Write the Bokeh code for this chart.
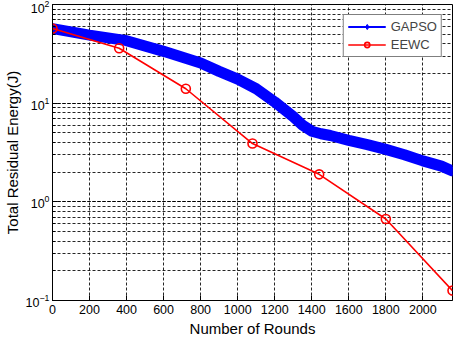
from bokeh.plotting import figure
from bokeh.models import Range1d, ColumnDataSource, Legend, LegendItem, FixedTicker
from bokeh.embed import file_html
from bokeh.resources import INLINE

# ---- data ----
gapso_rounds = [0, 200, 400, 600, 800, 900, 1000, 1100, 1200, 1300, 1350, 1400, 1450,
                1500, 1600, 1700, 1800, 1900, 2000, 2100, 2160]
gapso_energy = [57, 49, 43, 33.5, 25.5, 21, 17.5, 14, 10.3, 7.3, 6.0, 5.2, 4.9,
                4.7, 4.2, 3.8, 3.4, 3.0, 2.6, 2.3, 2.05]

eewc_rounds = [0, 360, 720, 1080, 1440, 1800, 2160]
eewc_energy = [57, 36, 14, 3.9, 1.9, 0.67, 0.126]

x_ticks = [0, 200, 400, 600, 800, 1000, 1200, 1400, 1600, 1800, 2000]

FONT = "Liberation Sans"

p = figure(width=458, height=339, y_axis_type="log",
           x_range=Range1d(0, 2160), y_range=Range1d(0.1, 100),
           output_backend="svg", toolbar_location=None,
           min_border_left=0, min_border_right=6, min_border_top=4, min_border_bottom=0)

p.background_fill_color = "white"
p.border_fill_color = "white"
p.outline_line_color = "black"
p.outline_line_width = 1

# axes
p.xaxis.ticker = FixedTicker(ticks=x_ticks)
p.yaxis.ticker.desired_num_ticks = 4
p.xaxis.axis_label = "Number of Rounds"
p.yaxis.axis_label = "Total Residual Energy(J)"
for ax in (p.xaxis[0], p.yaxis[0]):
    ax.axis_label_text_font = FONT
    ax.axis_label_text_font_size = "15px"
    ax.axis_label_text_font_style = "normal"
    ax.major_label_text_font = FONT
    ax.major_label_text_font_size = "12.5px"
    ax.major_tick_in = 5
    ax.major_tick_out = 0
    ax.minor_tick_in = 3
    ax.minor_tick_out = 0
    ax.axis_line_color = "black"
    ax.major_tick_line_color = "black"
    ax.minor_tick_line_color = "black"
    ax.major_label_text_color = "black"
    ax.axis_label_text_color = "black"
p.xaxis.minor_tick_line_color = None
p.xaxis.axis_label_standoff = 3
p.xaxis.major_label_standoff = 4
p.yaxis.axis_label_standoff = 2
p.yaxis.major_label_standoff = 3

# grids
for g in (p.xgrid, p.ygrid):
    g.grid_line_color = "black"
    g.grid_line_dash = "3 2"
    g.grid_line_alpha = 0.85
p.ygrid.minor_grid_line_color = "black"
p.ygrid.minor_grid_line_dash = "3 2"
p.ygrid.minor_grid_line_alpha = 0.85

# series
gsrc = ColumnDataSource(dict(x=gapso_rounds, y=gapso_energy))
esrc = ColumnDataSource(dict(x=eewc_rounds, y=eewc_energy))

g_band = p.line("x", "y", source=gsrc, line_color="#0000ff", line_width=11,
                line_join="round", line_cap="round")
# thin line + diamonds on the same data (hidden inside the thick band); used for the legend
g_thin = p.line("x", "y", source=gsrc, line_color="#0000ff", line_width=2)
g_mark = p.scatter("x", "y", source=gsrc, marker="diamond", size=8,
                   fill_color="#0000ff", line_color="#0000ff")

e_line = p.line("x", "y", source=esrc, line_color="#ff0000", line_width=1.6)
e_mark = p.scatter("x", "y", source=esrc, marker="circle", size=9, fill_color=None,
                   line_color="#ff0000", line_width=1.6)

legend = Legend(items=[LegendItem(label="GAPSO", renderers=[g_thin, g_mark]),
                       LegendItem(label="EEWC", renderers=[e_line, e_mark])],
                location="top_right")
legend.label_text_font = FONT
legend.label_text_font_size = "13px"
legend.glyph_width = 38
legend.glyph_height = 13
legend.spacing = 3
legend.padding = 4
legend.margin = 10
legend.label_standoff = 5
legend.border_line_color = "black"
legend.border_line_width = 1
legend.background_fill_alpha = 1.0
p.add_layout(legend)

open("out.html", "w").write(file_html(p, INLINE))
